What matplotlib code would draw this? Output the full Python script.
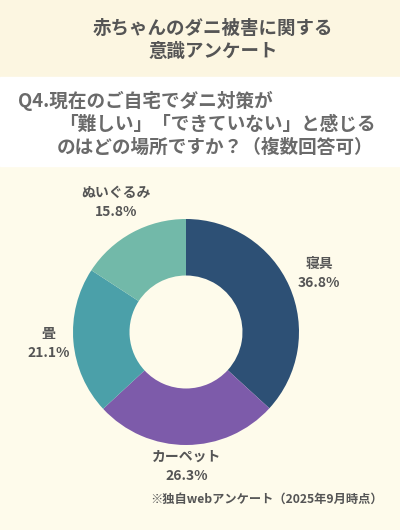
import numpy as np
import matplotlib
matplotlib.use('Agg')
import matplotlib.pyplot as plt
from matplotlib.patches import Rectangle

plt.rcParams['font.family'] = ['Noto Sans CJK JP', 'DejaVu Sans']

# chart data
title_lines = ['赤ちゃんのダニ被害に関する', '意識アンケート']
question_lines = ['Q4.現在のご自宅でダニ対策が',
                  '「難しい」「できていない」と感じる',
                  'のはどの場所ですか？（複数回答可）']
places = ['寝具', 'カーペット', '畳', 'ぬいぐるみ']
shares = [36.8, 26.3, 21.1, 15.8]
colors = ['#2D5075', '#7D5BAA', '#4BA0A9', '#72B9A9']
note = '※独自webアンケート（2025年9月時点）'

W, H = 400, 530
BG = '#FEFBEB'
HEAD_BG = '#FCF6E1'
TXT = '#555555'

fig = plt.figure(figsize=(W / 100, H / 100), dpi=100)
fig.patch.set_facecolor(BG)


def px(x, y):
    # pixel coords (top-left origin) -> figure fraction
    return x / W, 1 - y / H


# header and question bands
fig.patches.append(Rectangle((0, 1 - 77 / H), 1, 77 / H,
                             transform=fig.transFigure,
                             color=HEAD_BG, zorder=0))
fig.patches.append(Rectangle((0, 1 - 166 / H), 1, 89 / H,
                             transform=fig.transFigure,
                             color='white', zorder=0))

for i, line in enumerate(title_lines):
    fig.text(*px(213, 28 + 23 * i), line, ha='center', va='center',
             fontsize=13.3, fontweight='bold', color=TXT)

q_x = [18, 59, 57]
for i, line in enumerate(question_lines):
    fig.text(*px(q_x[i], 101 + 23 * i), line, ha='left', va='center',
             fontsize=13.4, fontweight='bold', color='#6A6A6A')

# donut
r_px = 113
ax = fig.add_axes([(186 - r_px) / W, (H - 332 - r_px) / H,
                   2 * r_px / W, 2 * r_px / H])
ax.set_facecolor('none')
wedges, _ = ax.pie(shares, colors=colors, startangle=90, counterclock=False,
                   radius=1, wedgeprops=dict(width=0.5, linewidth=0))
ax.set_xlim(-1, 1)
ax.set_ylim(-1, 1)
ax.set_aspect('equal')
ax.axis('off')

label_dist = [1.29, 1.19, 1.22, 1.30]
for w, name, val, d in zip(wedges, places, shares, label_dist):
    mid = np.deg2rad((w.theta1 + w.theta2) / 2)
    x, y = d * np.cos(mid), d * np.sin(mid)
    ax.text(x, y, f'{name}\n{val}%', ha='center', va='center',
            fontsize=10, fontweight='bold', color=TXT,
            linespacing=1.45, clip_on=False)

fig.text(*px(150, 499), note, ha='left', va='center',
         fontsize=8.8, fontweight='bold', color=TXT)

fig.savefig('out.png', dpi=100, facecolor=BG)
